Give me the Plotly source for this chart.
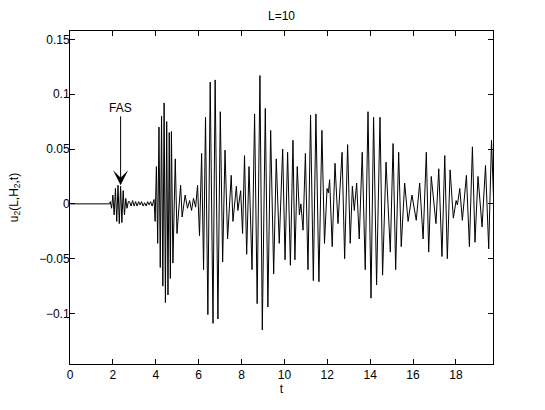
import plotly.graph_objects as go

# quiet lead-in before the first arrival
t_lead = [0.0, 1.84]
u_lead = [0.0, 0.0]

# first arrival packet (FAS)
t_fas = [1.88, 1.94, 2.00, 2.06, 2.12, 2.18, 2.24, 2.30, 2.36, 2.42, 2.48, 2.54, 2.60, 2.66, 2.72]
u_fas = [0.002, -0.004, 0.008, -0.010, 0.014, -0.016, 0.017, -0.018, 0.016, -0.017, 0.012, -0.010,
         0.005, -0.004, 0.002]

# small ripple between the packets
t_ripple = [2.78, 2.85, 2.92, 2.99, 3.06, 3.13, 3.20, 3.27, 3.34, 3.41, 3.48, 3.55, 3.62, 3.69, 3.76,
            3.83, 3.88]
u_ripple = [0.002, -0.002, 0.003, -0.002, 0.002, -0.002, 0.002, -0.001, 0.002, -0.002, 0.001, -0.002,
            0.002, -0.001, 0.002, -0.002, 0.001]

# main arrivals (peaks and troughs)
t_main = [3.92, 3.97, 4.03, 4.09, 4.15, 4.21, 4.27, 4.33, 4.39, 4.45, 4.51, 4.57, 4.63, 4.68, 4.73,
          4.80, 4.91, 4.99, 5.16, 5.23, 5.37, 5.48, 5.58, 5.67, 5.76, 5.86, 5.95, 6.04, 6.14, 6.23,
          6.32, 6.43, 6.54, 6.67, 6.77, 6.90, 7.01, 7.12, 7.23, 7.35, 7.52, 7.60, 7.76, 7.83, 7.96,
          8.05, 8.14, 8.24, 8.35, 8.49, 8.61, 8.73, 8.86, 8.97, 9.11, 9.23, 9.36, 9.50, 9.62, 9.76,
          9.92, 10.03, 10.15, 10.28, 10.40, 10.49, 10.60, 10.70, 10.77, 10.87, 10.98, 11.10, 11.22,
          11.35, 11.47, 11.61, 11.75, 11.87, 11.99, 12.05, 12.11, 12.23, 12.36, 12.50, 12.69, 12.81,
          12.95, 13.07, 13.17, 13.26, 13.37, 13.49, 13.63, 13.77, 13.90, 14.04, 14.16, 14.30, 14.46,
          14.58, 14.74, 14.94, 15.07, 15.19, 15.33, 15.45, 15.61, 15.77, 15.95, 16.15, 16.31, 16.47,
          16.62, 16.73, 16.85, 17.07, 17.20, 17.35, 17.48, 17.60, 17.73, 17.88, 18.01, 18.07, 18.18,
          18.30, 18.49, 18.63, 18.77, 18.89, 19.03, 19.22, 19.38, 19.53, 19.66, 19.80]
u_main = [0.004, -0.016, 0.034, -0.036, 0.070, -0.058, 0.080, -0.075, 0.092, -0.090, 0.075, -0.083,
          0.065, -0.068, 0.066, -0.054, 0.041, -0.027, 0.017, -0.012, 0.008, -0.004, 0.003, -0.006,
          0.005, -0.003, 0.017, -0.029, 0.046, -0.060, 0.079, -0.101, 0.111, -0.109, 0.113, -0.105,
          0.084, -0.053, 0.049, -0.032, 0.026, -0.016, 0.016, -0.006, 0.012, -0.027, 0.044, -0.046,
          0.034, -0.060, 0.082, -0.091, 0.117, -0.115, 0.087, -0.094, 0.067, -0.064, 0.041, -0.036,
          0.050, -0.051, 0.047, -0.056, 0.058, -0.051, 0.034, -0.010, 0.000, -0.024, 0.046, -0.060,
          0.081, -0.070, 0.082, -0.071, 0.067, -0.036, 0.014, 0.010, 0.022, -0.039, 0.037, -0.018,
          0.047, -0.050, 0.054, -0.036, 0.016, -0.006, 0.019, -0.032, 0.047, -0.060, 0.084, -0.086,
          0.079, -0.074, 0.079, -0.065, 0.038, -0.044, 0.055, -0.060, 0.047, -0.039, 0.019, -0.016,
          0.008, -0.015, 0.019, -0.032, 0.047, -0.044, 0.025, -0.018, 0.032, -0.048, 0.044, -0.050,
          0.031, -0.013, 0.003, -0.001, 0.014, -0.015, 0.026, -0.039, 0.052, -0.035, 0.025, -0.021,
          0.035, -0.041, 0.058, -0.020]

x_ticks = [0, 2, 4, 6, 8, 10, 12, 14, 16, 18]
fas_t, fas_tip, fas_label = 2.36, 0.017, 0.0875

t = t_lead + t_fas + t_ripple + t_main
u = u_lead + u_fas + u_ripple + u_main

fig = go.Figure()
fig.add_trace(go.Scatter(x=t, y=u, mode="lines",
                         line=dict(color="black", width=1), hoverinfo="skip"))

fig.add_annotation(x=fas_t, y=fas_tip, ax=fas_t, ay=fas_label, xref="x", yref="y",
                   axref="x", ayref="y", text="FAS", showarrow=True,
                   arrowhead=3, arrowsize=2.5, arrowwidth=1, arrowcolor="black",
                   font=dict(size=12, color="black"))

axis_style = dict(showline=True, linecolor="black", linewidth=1, mirror="ticks",
                  ticks="inside", ticklen=5, tickcolor="black", showgrid=False,
                  zeroline=False, automargin=False, tickfont=dict(size=12, color="black"))

fig.update_xaxes(range=[0, 19.73], tickvals=x_ticks,
                 title=dict(text="t", font=dict(size=12), standoff=2), **axis_style)
fig.update_yaxes(range=[-0.146, 0.1576], tick0=0, dtick=0.05, ticklabelstandoff=-3,
                 title=dict(text="u<sub>2</sub>(L,H<sub>2</sub>,t)", font=dict(size=12), standoff=18),
                 **axis_style)

fig.update_layout(
    width=545, height=410,
    title=dict(text="L=10", x=0.5, xref="paper", xanchor="center",
               y=1 - 16 / 410, yref="container", yanchor="middle",
               font=dict(size=12, color="black")),
    font=dict(family="Liberation Sans, Arial, sans-serif", size=12, color="black"),
    margin=dict(l=70, r=52, t=31, b=46, autoexpand=False),
    plot_bgcolor="white", paper_bgcolor="white",
    showlegend=False,
)

# drop the browser's default body margin so the figure sits at the page corner
fig.write_html("out.html", config={"displayModeBar": False},
               post_script="document.body.style.margin='0';")
